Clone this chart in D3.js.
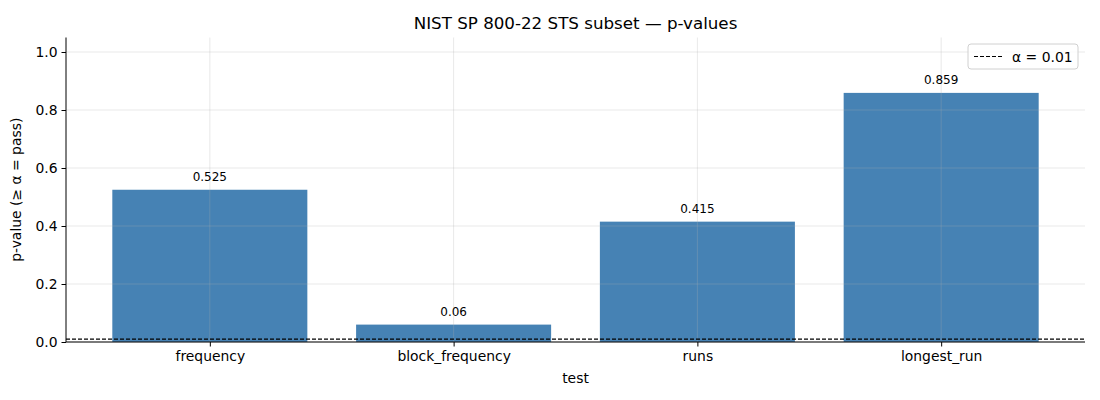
<!DOCTYPE html>
<html>
<head>
<meta charset="utf-8">
<script src="https://cdn.jsdelivr.net/npm/d3@7"></script>
<style>
  body { margin: 0; background: #fff; }
  text { font-family: "DejaVu Sans", sans-serif; fill: #000; }
</style>
</head>
<body>
<div id="chart"></div>
<script>
// Data
const tests = ["frequency", "block_frequency", "runs", "longest_run"];
const pValues = [0.525, 0.06, 0.415, 0.859];
const pLabels = ["0.525", "0.06", "0.415", "0.859"];
const yTicks = [0.0, 0.2, 0.4, 0.6, 0.8, 1.0];
const alpha = 0.01;

// Dimensions
const owidth = 1100, oheight = 400;
const margin = { top: 37.5, right: 15, bottom: 58, left: 66 };
const width = owidth - margin.left - margin.right;
const height = oheight - margin.top - margin.bottom;

const svg = d3.select("#chart").append("svg")
  .attr("width", owidth)
  .attr("height", oheight);

const canvas = svg.append("g")
  .attr("transform", `translate(${margin.left}, ${margin.top})`);

// Scales: index positions like matplotlib (bar width 0.8, margins 5%)
const xSc = d3.scaleLinear()
  .domain([-0.59, tests.length - 1 + 0.59])
  .range([0, width]);
const ySc = d3.scaleLinear()
  .domain([0, 1.05])
  .range([height, 0]);
const barW = xSc(0.8) - xSc(0);

// Bars
canvas.selectAll("rect.bar")
  .data(pValues)
  .join("rect")
    .attr("class", "bar")
    .attr("x", (d, i) => xSc(i - 0.4))
    .attr("y", d => ySc(d))
    .attr("width", barW)
    .attr("height", d => ySc(0) - ySc(d))
    .attr("fill", "#4682b4");

// Grid (drawn above bars, light)
const grid = canvas.append("g").attr("stroke", "#b0b0b0").attr("stroke-opacity", 0.35).attr("stroke-width", 0.8);
grid.selectAll("line.h")
  .data(yTicks)
  .join("line")
    .attr("x1", 0).attr("x2", width)
    .attr("y1", d => ySc(d)).attr("y2", d => ySc(d));
grid.selectAll("line.v")
  .data(tests)
  .join("line")
    .attr("class", "v")
    .attr("x1", (d, i) => xSc(i)).attr("x2", (d, i) => xSc(i))
    .attr("y1", 0).attr("y2", height);

// Bar value labels
canvas.selectAll("text.val")
  .data(pValues)
  .join("text")
    .attr("class", "val")
    .attr("x", (d, i) => xSc(i))
    .attr("y", d => ySc(d) - 8.5)
    .attr("text-anchor", "middle")
    .attr("font-size", "12px")
    .text((d, i) => pLabels[i]);

// Alpha threshold line
canvas.append("line")
  .attr("x1", 0).attr("x2", width)
  .attr("y1", ySc(alpha)).attr("y2", ySc(alpha))
  .attr("stroke", "#000")
  .attr("stroke-width", 1.1)
  .attr("stroke-dasharray", "4,2");

// Axes
const xAxis = canvas.append("g")
  .attr("transform", `translate(0, ${height})`)
  .call(d3.axisBottom(xSc).tickValues(d3.range(tests.length)).tickFormat(i => tests[i]).tickSize(4.5).tickPadding(5));
const yAxis = canvas.append("g")
  .call(d3.axisLeft(ySc).tickValues(yTicks).tickFormat(d3.format(".1f")).tickSize(4.5).tickPadding(4));
[xAxis, yAxis].forEach(a => {
  a.selectAll("text").attr("font-size", "13.9px").attr("font-family", "DejaVu Sans");
  a.select(".domain").attr("stroke-width", 1);
  a.selectAll(".tick line").attr("stroke-width", 1);
});
xAxis.select(".domain").attr("d", `M0,0H${width}`);
yAxis.select(".domain").attr("d", `M0,${height}V0`);

// Axis labels
canvas.append("text")
  .attr("text-anchor", "middle")
  .attr("x", width / 2)
  .attr("y", height + 40.5)
  .attr("font-size", "13.9px")
  .text("test");
canvas.append("text")
  .attr("transform", "rotate(-90)")
  .attr("text-anchor", "middle")
  .attr("x", -height / 2)
  .attr("y", -45)
  .attr("font-size", "13.9px")
  .text("p-value (≥ α = pass)");

// Title
svg.append("text")
  .attr("text-anchor", "middle")
  .attr("x", margin.left + width / 2)
  .attr("y", 29)
  .attr("font-size", "16.7px")
  .text("NIST SP 800-22 STS subset — p-values");

// Legend
const lg = canvas.append("g").attr("transform", `translate(${width - 117}, 6.5)`);
lg.append("rect")
  .attr("width", 110).attr("height", 25).attr("rx", 3)
  .attr("fill", "#fff").attr("fill-opacity", 0.8)
  .attr("stroke", "#d0d0d0");
lg.append("line")
  .attr("x1", 6).attr("x2", 34).attr("y1", 12.5).attr("y2", 12.5)
  .attr("stroke", "#000").attr("stroke-width", 1.1).attr("stroke-dasharray", "4,2");
lg.append("text")
  .attr("x", 44).attr("y", 17.5)
  .attr("font-size", "13.9px")
  .text("α = 0.01");
</script>
</body>
</html>
